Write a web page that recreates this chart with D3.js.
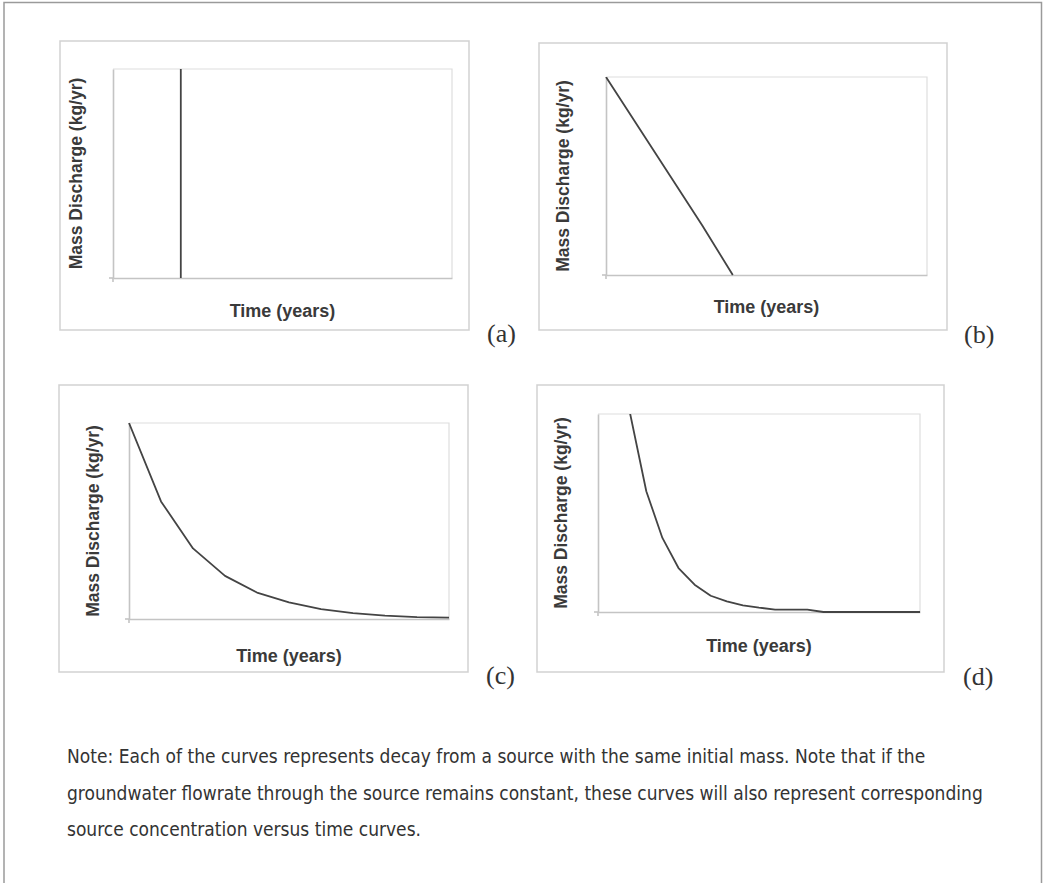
<!DOCTYPE html>
<html>
<head>
<meta charset="utf-8">
<script src="https://cdn.jsdelivr.net/npm/d3@7"></script>
<style>
  body { margin: 0; background: #fff; }
  .ylab, .xlab { font-family: 'Liberation Sans', Arial, sans-serif; font-weight: bold; fill: #3a3a3a; }
  .ylab { font-size: 17.5px; }
  .xlab { font-size: 18px; }
  .tag { font-family: 'Liberation Serif', 'Times New Roman', serif; font-size: 26px; fill: #333; }
  .note { font-family: 'DejaVu Sans Condensed', 'DejaVu Sans', sans-serif; font-size: 19px; fill: #333; }
</style>
</head>
<body>
<div class="graph-container"></div>
<script>
// svg parameters
const w = 1045;
const h = 883;

// panel data (x in years, y relative mass discharge)
const timeA = [2, 2];
const massA = [0, 1];

const timeB = [0, 1, 2, 3, 3.95];
const massB = [1, 0.75, 0.5, 0.25, 0];

const timeC = [0, 1, 2, 3, 4, 5, 6, 7, 8, 9, 10];
const massC = [1, 0.6, 0.36, 0.22, 0.135, 0.085, 0.05, 0.03, 0.017, 0.01, 0.007];

const timeD = [0, 0.5, 1, 1.5, 2, 2.5, 3, 3.5, 4, 4.5, 5, 5.5, 6, 6.5, 7, 7.5, 8, 8.5, 9, 9.5, 10];
const massD = [2.72, 1.65, 1, 0.61, 0.374, 0.222, 0.138, 0.082, 0.054, 0.034, 0.022, 0.012, 0.012, 0.012, 0, 0, 0, 0, 0, 0, 0];

const panelTags = ['(a)', '(b)', '(c)', '(d)'];
const xTitle = 'Time (years)';
const yTitle = 'Mass Discharge (kg/yr)';
const noteLines = [
  'Note: Each of the curves represents decay from a source with the same initial mass. Note that if the',
  'groundwater flowrate through the source remains constant, these curves will also represent corresponding',
  'source concentration versus time curves.',
];

// layout of each panel: outer box, plot area, label positions
const panels = [
  { t: timeA, m: massA, box: [60, 41, 469, 330], plot: [113, 69, 452, 278], yl: 82, xl: 317, tag: [487, 342] },
  { t: timeB, m: massB, box: [539, 43, 947, 330], plot: [606, 77, 927, 275], yl: 569, xl: 313, tag: [964, 343] },
  { t: timeC, m: massC, box: [59, 385, 468, 672], plot: [129, 423, 449, 619], yl: 99, xl: 662, tag: [486, 684] },
  { t: timeD, m: massD, box: [537, 385, 944, 672], plot: [598, 414, 920, 612], yl: 567, xl: 652, tag: [963, 685] },
];

const svg = d3.select('.graph-container')
  .append('svg')
  .attr('width', w)
  .attr('height', h);

// page frame (no bottom edge)
svg.append('path')
  .attr('d', `M4,${h} V2.5 H1041.5 V${h}`)
  .attr('fill', 'none')
  .attr('stroke', '#9a9a9a')
  .attr('stroke-width', 1.5);

panels.forEach((p, i) => {
  const [bx0, by0, bx1, by1] = p.box;
  const [px0, py0, px1, py1] = p.plot;
  const g = svg.append('g');

  // outer box
  g.append('rect')
    .attr('x', bx0).attr('y', by0)
    .attr('width', bx1 - bx0).attr('height', by1 - by0)
    .attr('fill', 'none')
    .attr('stroke', '#d2d2d2')
    .attr('stroke-width', 1.5);

  // scales
  const xScale = d3.scaleLinear([0, 10], [px0, px1]);
  const yScale = d3.scaleLinear([0, 1], [py1, py0]);

  // plot frame (top and right)
  g.append('path')
    .attr('d', `M${px0},${py0} H${px1} V${py1}`)
    .attr('fill', 'none')
    .attr('stroke', '#dedede')
    .attr('stroke-width', 1.2);

  // axes, without ticks, with a small stub past the corner
  const xAxis = d3.axisBottom(xScale).tickValues([]).tickSizeOuter(0);
  const yAxis = d3.axisLeft(yScale).tickValues([]).tickSizeOuter(0);
  const gx = g.append('g').attr('transform', `translate(0, ${py1})`).call(xAxis);
  const gy = g.append('g').attr('transform', `translate(${px0}, 0)`).call(yAxis);
  [gx, gy].forEach((ax) => ax.select('.domain').attr('stroke', '#c4c4c4').attr('stroke-width', 1.6));
  g.append('line')
    .attr('x1', px0 - 4).attr('x2', px0).attr('y1', py1).attr('y2', py1)
    .attr('stroke', '#c4c4c4').attr('stroke-width', 1.6);
  g.append('line')
    .attr('x1', px0).attr('x2', px0).attr('y1', py1).attr('y2', py1 + 4)
    .attr('stroke', '#c4c4c4').attr('stroke-width', 1.6);

  // clip to plot area
  const clipId = `clip-${i}`;
  g.append('clipPath').attr('id', clipId)
    .append('rect')
    .attr('x', px0 - 2).attr('y', py0)
    .attr('width', px1 - px0 + 4).attr('height', py1 - py0 + 2);

  const line = d3.line()
    .x((d) => xScale(d[0]))
    .y((d) => yScale(d[1]));

  g.append('path')
    .datum(d3.zip(p.t, p.m))
    .attr('clip-path', `url(#${clipId})`)
    .attr('d', line)
    .attr('fill', 'none')
    .attr('stroke', '#444')
    .attr('stroke-width', 1.8)
    .attr('stroke-linejoin', 'round');

  // axis titles
  g.append('text')
    .attr('class', 'ylab')
    .attr('transform', `translate(${p.yl}, ${(py0 + py1) / 2}) rotate(-90)`)
    .attr('text-anchor', 'middle')
    .text(yTitle);

  g.append('text')
    .attr('class', 'xlab')
    .attr('x', (px0 + px1) / 2)
    .attr('y', p.xl)
    .attr('text-anchor', 'middle')
    .text(xTitle);

  // panel tag
  g.append('text')
    .attr('class', 'tag')
    .attr('x', p.tag[0])
    .attr('y', p.tag[1])
    .text(panelTags[i]);
});

// note below the panels
svg.selectAll('.note')
  .data(noteLines)
  .enter()
  .append('text')
  .attr('class', 'note')
  .attr('x', 67)
  .attr('y', (d, i) => 763 + i * 36.5)
  .text((d) => d);
</script>
</body>
</html>
